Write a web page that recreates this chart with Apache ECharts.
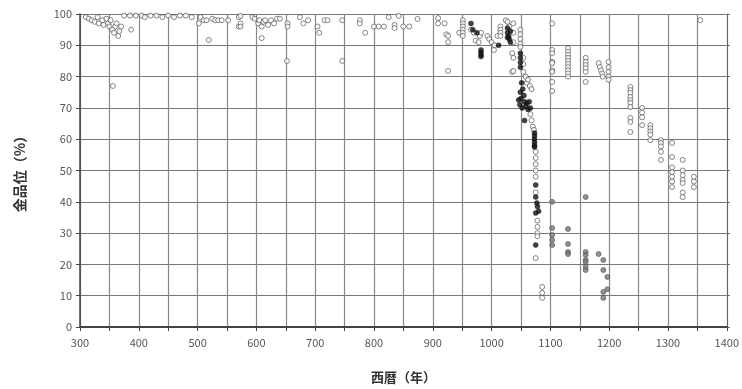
<!DOCTYPE html>
<html>
<head>
<meta charset="utf-8">
<script src="https://cdn.jsdelivr.net/npm/echarts@6/dist/echarts.min.js"></script>
<style>
  html, body { margin: 0; padding: 0; background: #fff; }
  #chart { width: 742px; height: 389px; }
</style>
</head>
<body>
<div id="chart"></div>
<script>
// [year, gold %]
const openPoints = [
  [310, 99], [315, 98.5], [320, 98], [325, 97.5], [330, 99], [332, 97], [338, 98], [340, 96.5],
  [345, 98.5], [348, 97], [350, 96], [352, 98], [355, 95], [356, 77], [358, 94], [360, 96],
  [362, 97], [365, 93], [367, 94.5], [370, 96], [387, 95], [375, 99.5], [385, 99.5], [395, 99.5],
  [405, 99.5], [410, 99], [420, 99.5], [430, 99.5], [440, 99], [450, 99.5], [460, 99], [470, 99.5],
  [480, 99.5], [490, 99], [502, 97], [505, 99], [510, 98], [515, 98], [519, 91.7], [525, 98.5],
  [530, 98], [535, 98], [541, 98], [552, 98], [570, 99], [570, 96], [573, 99.4], [573, 97],
  [573, 96], [593, 99], [597, 98.5], [603, 97], [605, 98], [609, 96], [609, 92.3], [612, 97.5],
  [615, 98], [620, 96.5], [625, 98], [630, 97], [635, 98.5], [640, 98.5], [653, 97], [653, 96],
  [652, 85], [674, 99], [680, 97], [688, 98], [704, 96], [707, 94], [716, 98], [721, 98],
  [746, 98], [746, 85], [776, 98], [776, 97], [785, 94], [800, 96], [808, 96], [817, 96],
  [825, 99], [835, 96.5], [835, 95.5], [842, 99.4], [850, 96], [860, 96], [874, 98.4],
  [909, 98.7], [909, 97], [920, 97], [923, 93.5], [926, 93], [926, 91], [926, 81.8], [945, 94],
  [951, 98], [951, 97], [951, 96], [951, 95], [951, 94], [951, 93], [965, 95], [970, 94],
  [973, 91.5], [978, 91], [980, 93], [982, 94], [993, 93], [996, 92], [1000, 91], [1004, 88.5],
  [1005, 90], [1010, 93], [1015, 96], [1015, 95], [1015, 94], [1015, 93], [1024, 98], [1027, 97.5],
  [1030, 96], [1035, 87.5], [1035, 81.5], [1037, 97], [1037, 94], [1037, 91], [1037, 86], [1037, 81.8],
  [1049, 95], [1049, 93.5], [1049, 92], [1049, 90.5], [1049, 89.5], [1054, 86], [1054, 84], [1054, 81.5],
  [1058, 80], [1060, 78], [1062, 79], [1065, 77], [1068, 76], [1066, 68], [1068, 66], [1070, 64],
  [1072, 63], [1075, 56], [1075, 54], [1075, 52], [1075, 50], [1075, 48], [1075, 43], [1078, 34],
  [1078, 32], [1078, 30], [1078, 29], [1075, 22], [1086, 12.8], [1086, 10.9], [1086, 9.3],
  [1103, 97], [1103, 88.5], [1103, 87.5], [1103, 84.7], [1103, 84.3], [1103, 82], [1103, 81.5],
  [1103, 78.3], [1103, 75.4],
  [1130, 89], [1130, 88], [1130, 87], [1130, 86], [1130, 85], [1130, 84], [1130, 83], [1130, 82],
  [1130, 81], [1130, 80],
  [1160, 86], [1160, 84.7], [1160, 83.7], [1160, 82.7], [1160, 81.5], [1160, 78.3],
  [1182, 84.3], [1184, 83], [1186, 82], [1188, 81], [1189, 80],
  [1199, 84.7], [1199, 83], [1199, 81.5], [1199, 80], [1199, 79],
  [1236, 76.7], [1236, 75.7], [1236, 74.8], [1236, 73.5], [1236, 72.5], [1236, 71.6], [1236, 70.3],
  [1236, 66.8], [1236, 65.5], [1236, 62.3],
  [1256, 70], [1256, 68.5], [1256, 67], [1256, 64.5],
  [1270, 64.5], [1270, 63.5], [1270, 62.5], [1270, 61.5], [1270, 59.7],
  [1288, 59.7], [1288, 58.8], [1288, 57.7], [1288, 56], [1288, 53.4],
  [1307, 58.8], [1307, 54.3], [1307, 51], [1307, 49.5], [1307, 48], [1307, 46.5], [1307, 44.7],
  [1325, 53.4], [1325, 50], [1325, 48.5], [1325, 47], [1325, 46], [1325, 43], [1325, 41.5],
  [1344, 48], [1344, 46.5], [1344, 44.7], [1355, 98]
];

const blackPoints = [
  [965, 97], [968, 95], [975, 94], [982, 88.5], [982, 87.8], [982, 87], [982, 86.4], [1012, 90],
  [1027, 95.5], [1027, 94], [1029, 93], [1030, 92], [1032, 91], [1027, 92.5], [1032, 94.5],
  [1049, 87.5], [1049, 86], [1049, 84.5], [1049, 83], [1046, 72.5], [1048, 71], [1050, 73],
  [1052, 70], [1055, 74], [1056, 72], [1058, 70.5], [1060, 71.5], [1062, 69.5], [1064, 72],
  [1066, 70], [1053, 76], [1051, 78], [1049, 75], [1056, 66], [1073, 62], [1073, 61], [1073, 60],
  [1073, 59], [1073, 58], [1073, 57.5], [1075, 45.4], [1075, 41.5], [1077, 39.6], [1078, 38.5],
  [1080, 37], [1075, 36.4], [1075, 26.2]
];

const grayPoints = [
  [1103, 40], [1103, 31.6], [1103, 29.4], [1103, 27.8], [1103, 26.2], [1130, 31.3], [1130, 26.5],
  [1130, 24], [1130, 23.3], [1160, 41.5], [1160, 24], [1160, 23], [1160, 21.4], [1160, 20.8],
  [1160, 19.2], [1160, 18.2], [1182, 23.3], [1190, 21.4], [1190, 18.2], [1197, 16], [1197, 12.1],
  [1190, 11.2], [1190, 9.3]
];

const xTitle = '西暦（年）';
const yTitle = '金品位（%）';

const chart = echarts.init(document.getElementById('chart'));
const font = '"Noto Sans CJK JP", "Noto Sans", sans-serif';

chart.setOption({
  animation: false,
  grid: { left: 80, right: 9, top: 14, bottom: 62 },
  xAxis: {
    type: 'value',
    min: 300,
    max: 1400,
    interval: 50,
    name: xTitle,
    nameLocation: 'middle',
    nameGap: 44,
    nameTextStyle: { fontFamily: font, fontSize: 13, color: '#333', fontWeight: 'bold' },
    axisLine: { lineStyle: { color: '#444', width: 2 } },
    axisTick: { length: 4, lineStyle: { color: '#444' } },
    axisLabel: {
      fontFamily: font, fontSize: 11, color: '#555', margin: 10,
      formatter: v => (v % 100 === 0 ? String(v) : '')
    },
    splitLine: { lineStyle: { color: '#888', width: 1.2 } }
  },
  yAxis: [
    {
      type: 'value',
      min: 0,
      max: 100,
      interval: 10,
      name: yTitle,
      nameLocation: 'middle',
      nameGap: 53,
      nameTextStyle: { fontFamily: font, fontSize: 14, color: '#333', fontWeight: 'bold' },
      axisLine: { show: true, lineStyle: { color: '#444', width: 1.5 } },
      axisTick: { show: true, length: 4, lineStyle: { color: '#444' } },
      axisLabel: { fontFamily: font, fontSize: 11, color: '#555', margin: 8 },
      splitLine: { lineStyle: { color: '#777', width: 1.2 } }
    },
    {
      type: 'value',
      min: 0,
      max: 100,
      interval: 10,
      position: 'right',
      axisLine: { show: true, lineStyle: { color: '#666', width: 1 } },
      axisTick: { show: true, length: 3, lineStyle: { color: '#666' } },
      axisLabel: { show: false },
      splitLine: { show: false }
    }
  ],
  series: [
    {
      type: 'scatter',
      data: openPoints,
      symbolSize: 5,
      itemStyle: { color: '#fff', borderColor: '#444', borderWidth: 0.8 }
    },
    {
      type: 'scatter',
      data: grayPoints,
      symbolSize: 5,
      itemStyle: { color: '#777', borderColor: '#555', borderWidth: 0.8 }
    },
    {
      type: 'scatter',
      data: blackPoints,
      symbolSize: 5,
      itemStyle: { color: '#111', borderColor: '#111', borderWidth: 0.5 }
    }
  ]
});
</script>
</body>
</html>
